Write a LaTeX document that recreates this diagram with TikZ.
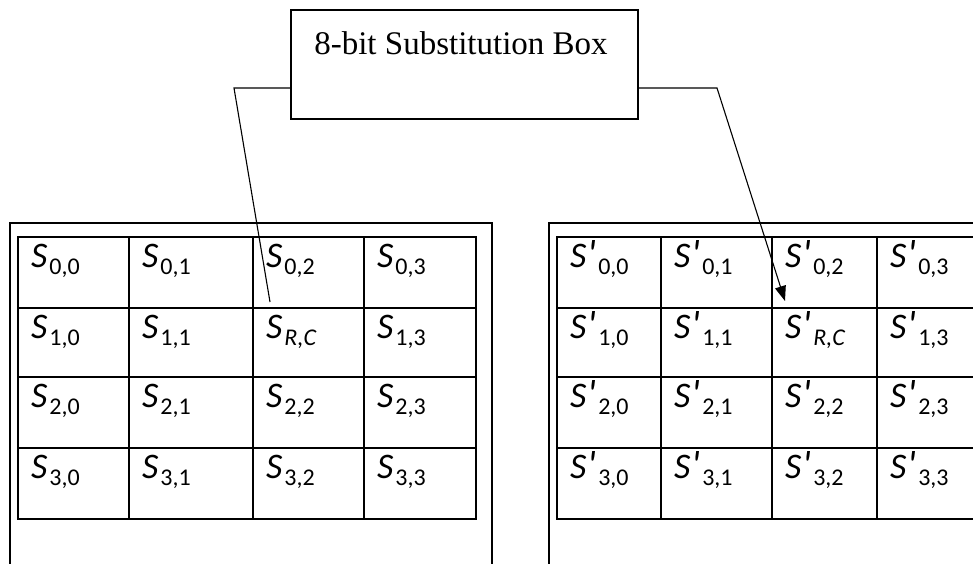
\documentclass[tikz,border=0pt]{standalone}
\usepackage{fontspec}
\setmainfont{Liberation Serif}
\newfontfamily\calfont{Carlito}
\usetikzlibrary{arrows.meta}
\newcommand\slab[2]{{\calfont\fontsize{36}{36}\selectfont\itshape S#1}\kern2pt\raisebox{-7pt}{\calfont\fontsize{24}{24}\selectfont #2}}
\newcommand\primemark{\kern1pt{\fontsize{40}{40}\selectfont'}}
\tikzset{
  frame/.style={draw=black, line width=1.4pt},
  gridline/.style={draw=black, line width=1.4pt},
  conn/.style={draw=black, line width=1.1pt},
  titlebox/.style={draw=black, line width=1.4pt, minimum width=347pt, minimum height=109pt, inner sep=0pt},
  lab/.style={anchor=base west, inner sep=0pt}
}
\begin{document}
\begin{tikzpicture}[x=1pt,y=-1pt]
\useasboundingbox (0,0) rectangle (973,563);
\clip (0,0) rectangle (973,563);
% top box
\node[titlebox] (sbox) at (464.5,64.5) {};
\node[anchor=base, inner sep=0pt, font=\fontsize{33}{33}\selectfont] (stitle) at (461,54) {8-bit Substitution Box};
% outer frames
\draw[frame] (10,223) rectangle (492,600);
\draw[frame] (549,223) rectangle (1000,600);
% left grid
\def\lx{{18,129,253,364,476}}
\def\ry{{237,308,377,448,519}}
\foreach \c in {0,...,3}{
  \foreach \r in {0,...,3}{
    \pgfmathsetmacro{\xa}{\lx[\c]}\pgfmathsetmacro{\xb}{\lx[\c+1]}
    \pgfmathsetmacro{\ya}{\ry[\r]}\pgfmathsetmacro{\yb}{\ry[\r+1]}
    \draw[gridline] (\xa,\ya) rectangle (\xb,\yb);
    \coordinate (L-\r-\c) at (\xa+13,\ya+30);
  }
}
% right grid
\def\rx{{557,661,772,877,982}}
\foreach \c in {0,...,3}{
  \foreach \r in {0,...,3}{
    \pgfmathsetmacro{\xa}{\rx[\c]}\pgfmathsetmacro{\xb}{\rx[\c+1]}
    \pgfmathsetmacro{\ya}{\ry[\r]}\pgfmathsetmacro{\yb}{\ry[\r+1]}
    \draw[gridline] (\xa,\ya) rectangle (\xb,\yb);
    \coordinate (R-\r-\c) at (\xa+13,\ya+30);
  }
}
% labels left
\foreach \r in {0,...,3}{
  \foreach \c in {0,...,3}{
    \ifnum\r=1 \ifnum\c=2
      \node[lab] (ln-\r-\c) at (L-\r-\c) {\slab{}{\itshape R,C}};
    \else
      \node[lab] (ln-\r-\c) at (L-\r-\c) {\slab{}{\r,\c}};
    \fi\else
      \node[lab] (ln-\r-\c) at (L-\r-\c) {\slab{}{\r,\c}};
    \fi
  }
}
% labels right
\foreach \r in {0,...,3}{
  \foreach \c in {0,...,3}{
    \ifnum\r=1 \ifnum\c=2
      \node[lab] (rn-\r-\c) at (R-\r-\c) {\slab{\primemark}{\itshape R,C}};
    \else
      \node[lab] (rn-\r-\c) at (R-\r-\c) {\slab{\primemark}{\r,\c}};
    \fi\else
      \node[lab] (rn-\r-\c) at (R-\r-\c) {\slab{\primemark}{\r,\c}};
    \fi
  }
}
% connectors
\coordinate (lk) at (234,88);
\coordinate (le) at (270,302);
\coordinate (rk) at (717,88);
\coordinate (re) at (785,301);
\draw[conn] (sbox.west |- lk) -- (lk) -- (le);
\draw[conn, -{Triangle[length=15pt,width=11pt]}] (sbox.east |- rk) -- (rk) -- (re);
\end{tikzpicture}
\end{document}
